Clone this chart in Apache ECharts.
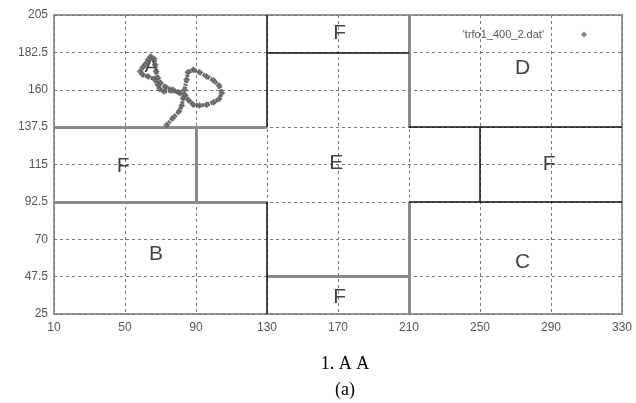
<!DOCTYPE html>
<html>
<head>
<meta charset="utf-8">
<script src="https://cdn.jsdelivr.net/npm/echarts@6/dist/echarts.min.js"></script>
<style>html,body{margin:0;padding:0;background:#fff;}#c{width:636px;height:403px;}</style>
</head>
<body>
<div id="c"></div>
<script>
// Tick settings
const xTicks = [10, 50, 90, 130, 170, 210, 250, 290, 330];
const yTicks = [25, 47.5, 70, 92.5, 115, 137.5, 160, 182.5, 205];

// Region boundary segments
const blackSegments = [
  [[130, 205], [130, 137.5]],
  [[130, 92.5], [130, 25]],
  [[130, 182.5], [210, 182.5]],
  [[210, 137.5], [330, 137.5]],
  [[250, 137.5], [250, 92.5]],
  [[210, 92.5], [330, 92.5]]
];
const graySegments = [
  [[10, 137.5], [130, 137.5]],
  [[90, 137.5], [90, 92.5]],
  [[10, 92.5], [130, 92.5]],
  [[210, 205], [210, 137.5]],
  [[210, 92.5], [210, 25]],
  [[130, 47.5], [210, 47.5]]
];

// Region labels
const regionNames = ['A', 'F', 'D', 'F', 'E', 'F', 'B', 'C', 'F'];
const regionX = [65, 171, 274, 49, 169, 289, 67.5, 274, 171];
const regionY = [174, 194, 173, 114, 116, 115, 61, 56, 35];

// Trajectory 'trfo1_400_2.dat'
const trajX = [73.5, 77, 80.5, 82, 82.8, 83.5, 84.7, 85.5, 88.5, 92, 96, 100, 103, 104.5, 103, 100, 96, 92, 88.5, 86, 84, 80, 76, 72, 69.5, 68.5, 66.5, 63, 60, 58.5, 60, 61.5, 63, 64.5, 66.5, 67, 67.5, 68.5, 70, 73, 77, 81];
const trajY = [138.8, 143, 147, 150.5, 155, 160, 166, 170.5, 172, 170.5, 168, 165.5, 162.5, 158, 154.5, 152.5, 151, 150.5, 151, 153.5, 156.5, 158.5, 159.5, 159, 160.5, 163, 166.5, 168, 169, 171, 173.5, 175.5, 178, 180, 178.5, 175, 171, 167, 164, 161.5, 160, 158];

const chart = echarts.init(document.getElementById('c'), null, {renderer: 'canvas'});

function segSeries(segs, color, width) {
  return {
    type: 'lines',
    coordinateSystem: 'cartesian2d',
    silent: true,
    z: 3,
    lineStyle: {color: color, width: width, opacity: 1},
    data: segs.map(s => ({coords: s}))
  };
}

const option = {
  animation: false,
  backgroundColor: '#fff',
  title: [
    {text: '1. A A', left: 340, top: 350, textAlign: 'center',
     textStyle: {fontFamily: 'Liberation Serif', fontSize: 18, fontWeight: 'normal', color: '#000'}},
    {text: '(a)', left: 340, top: 376, textAlign: 'center',
     textStyle: {fontFamily: 'Liberation Serif', fontSize: 18, fontWeight: 'normal', color: '#000'}}
  ],
  legend: {
    right: 44, top: 24,
    align: 'right',
    icon: 'diamond',
    itemWidth: 6, itemHeight: 6,
    textStyle: {fontFamily: 'Liberation Sans', fontSize: 11, color: '#555', padding: [0, 32, 0, 0]},
    data: ["'trfo1_400_2.dat'"]
  },
  grid: {left: 54, right: 14, top: 15, bottom: 89, show: true, borderColor: '#999', borderWidth: 2},
  xAxis: {
    type: 'value', min: 10, max: 330, interval: 40,
    axisLine: {show: false},
    axisTick: {show: false},
    axisLabel: {color: '#555', fontFamily: 'Liberation Sans', fontSize: 12, margin: 8,
      formatter: v => xTicks.includes(v) ? String(v) : ''},
    splitLine: {show: true, lineStyle: {color: '#777', type: [3, 3], width: 1}}
  },
  yAxis: {
    type: 'value', min: 25, max: 205, interval: 22.5,
    axisLine: {show: false},
    axisTick: {show: false},
    axisLabel: {color: '#555', fontFamily: 'Liberation Sans', fontSize: 12, margin: 6,
      formatter: v => yTicks.includes(v) ? String(v) : ''},
    splitLine: {show: true, lineStyle: {color: '#777', type: [3, 3], width: 1}}
  },
  series: [
    segSeries(graySegments, '#8a8a8a', 3),
    segSeries(blackSegments, '#111', 1.5),
    {
      type: 'scatter',
      silent: true,
      symbolSize: 0,
      z: 5,
      data: regionNames.map((n, i) => ({name: n, value: [regionX[i], regionY[i]]})),
      label: {show: true, position: 'inside', formatter: p => p.name,
        fontFamily: 'Liberation Sans', fontSize: 21, color: '#111'}
    },
    {
      name: "'trfo1_400_2.dat'",
      type: 'line',
      z: 6,
      data: trajX.map((x, i) => [x, trajY[i]]),
      symbol: 'diamond',
      symbolSize: 7,
      showSymbol: true,
      itemStyle: {color: 'rgba(100,100,100,0.8)'},
      lineStyle: {color: 'rgba(70,70,70,0.85)', width: 4, type: [2, 1]}
    }
  ]
};
chart.setOption(option);
</script>
</body>
</html>
